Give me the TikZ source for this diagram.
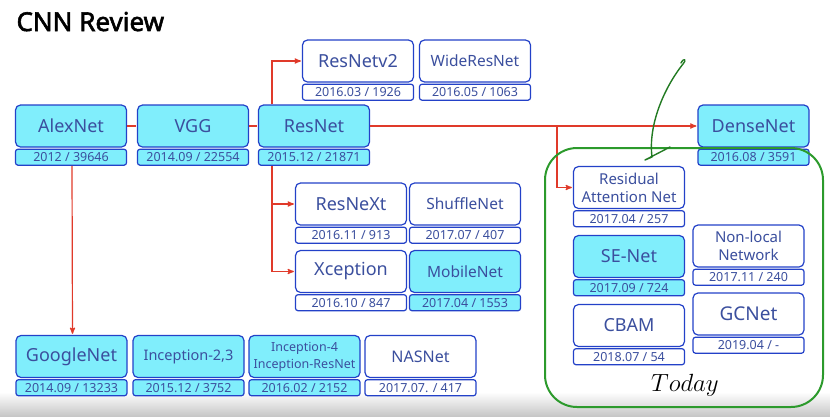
\documentclass[tikz,border=0pt]{standalone}
\usepackage{fontspec}
\setmainfont{Noto Sans}
\newfontfamily\titlefont{Noto Sans}[AutoFakeBold=2.2]
\usepackage{tikz}
\usetikzlibrary{arrows,positioning}
\definecolor{boxblue}{HTML}{2341C8}
\definecolor{boxcyan}{HTML}{80EEFC}
\definecolor{textblue}{HTML}{3B4F9E}
\definecolor{arrowred}{HTML}{E03A2A}
\definecolor{todaygreen}{HTML}{2C9A2C}
\tikzset{
    %Define standard arrow tip
    >=stealth',
    % Define style for model boxes
    netbox/.style={
           rectangle,
           rounded corners=5pt,
           draw=boxblue, line width=1.2pt,
           fill=white,
           minimum width=111pt,
           minimum height=42pt,
           inner sep=1pt,
           text=textblue,
           align=center,
           font=\fontsize{18}{20}\selectfont},
    % Define style for year / citation bars
    datebox/.style={
           rectangle,
           rounded corners=2.5pt,
           draw=boxblue, line width=1.2pt,
           fill=white,
           minimum width=111pt,
           minimum height=16pt,
           inner sep=0pt,
           text=textblue,
           font=\fontsize{12.5}{13}\selectfont},
    hot/.style={fill=boxcyan},
    % Define arrow style
    pil/.style={
           draw=arrowred,
           line width=1.2pt,
           shorten >=1pt},
    pilh/.style={pil,->}
}

\begin{document}
\begin{tikzpicture}[x=1pt,y=-1pt]
  \useasboundingbox (0,0) rectangle (830,416);
  \shade[top color=white,bottom color=black!22] (0,392) rectangle (830,416);
  \node[anchor=base west,font=\titlefont\fontsize{26}{28}\selectfont\bfseries] (title) at (13,31) {CNN Review};
  % main line
  \node[netbox,hot] (alex) at (71,126) {AlexNet};
  \node[datebox,hot] (alexd) [below=1pt of alex] {2012 / 39646};
  \node[netbox,hot] (vgg) at (193,126) {VGG};
  \node[datebox,hot] (vggd) [below=1pt of vgg] {2014.09 / 22554};
  \node[netbox,hot] (resnet) at (314,126) {ResNet};
  \node[datebox,hot] (resnetd) [below=1pt of resnet] {2015.12 / 21871};
  \node[netbox,hot] (dense) at (753.5,126) {DenseNet};
  \node[datebox,hot] (densed) [below=1pt of dense] {2016.08 / 3591};
  % resnet family
  \node[netbox] (resv2) at (358,61) {ResNetv2};
  \node[datebox] (resv2d) [below=1pt of resv2] {2016.03 / 1926};
  \node[netbox,font=\fontsize{15.5}{17}\selectfont] (wide) at (475,61) {WideResNet};
  \node[datebox] (wided) [below=1pt of wide] {2016.05 / 1063};
  \node[netbox] (resnext) at (351,204) {ResNeXt};
  \node[datebox] (resnextd) [below=1pt of resnext] {2016.11 / 913};
  \node[netbox,font=\fontsize{15.5}{17}\selectfont] (shuffle) at (465,204) {ShuffleNet};
  \node[datebox] (shuffled) [below=1pt of shuffle] {2017.07 / 407};
  \node[netbox] (xcept) at (351,271.5) {Xception};
  \node[datebox] (xceptd) [below=1pt of xcept] {2016.10 / 847};
  \node[netbox,hot,font=\fontsize{15.5}{17}\selectfont] (mobile) at (465,271.5) {MobileNet};
  \node[datebox,hot] (mobiled) [below=1pt of mobile] {2017.04 / 1553};
  % inception family
  \node[netbox,hot] (google) at (71.5,356.5) {GoogleNet};
  \node[datebox,hot] (googled) [below=1pt of google] {2014.09 / 13233};
  \node[netbox,hot,font=\fontsize{14.5}{16}\selectfont] (incep) at (188.5,356.5) {Inception-2,3};
  \node[datebox,hot] (incepd) [below=1pt of incep] {2015.12 / 3752};
  \node[netbox,hot,font=\fontsize{12.5}{17}\selectfont] (incepres) at (304.5,356.5) {Inception-4\\Inception-ResNet};
  \node[datebox,hot] (incepresd) [below=1pt of incepres] {2016.02 / 2152};
  \node[netbox,font=\fontsize{16}{18}\selectfont] (nas) at (420.5,356.5) {NASNet};
  \node[datebox] (nasd) [below=1pt of nas] {2017.07. / 417};
  % attention
  \node[netbox,font=\fontsize{15}{18}\selectfont] (resatt) at (629,187.5) {Residual\\Attention Net};
  \node[datebox] (resattd) [below=1pt of resatt] {2017.04 / 257};
  \node[netbox,hot] (senet) at (629,256.5) {SE-Net};
  \node[datebox,hot] (senetd) [below=1pt of senet] {2017.09 / 724};
  \node[netbox] (cbam) at (629,325.5) {CBAM};
  \node[datebox] (cbamd) [below=1pt of cbam] {2018.07 / 54};
  \node[netbox,font=\fontsize{15}{18}\selectfont] (nonlocal) at (748.5,246) {Non-local\\Network};
  \node[datebox] (nonlocald) [below=1pt of nonlocal] {2017.11 / 240};
  \node[netbox,font=\fontsize{19}{20}\selectfont] (gcnet) at (748.5,314) {GCNet};
  \node[datebox] (gcnetd) [below=1pt of gcnet] {2019.04 / -};
  % red links
  \coordinate (fork) at (557,126);
  \path[pil] (alex) -- (vgg);
  \path[pil] (vgg) -- (resnet);
  \path[pilh] (resnet) -- (dense);
  \path[pilh] (fork) |- (resatt);
  \path[pilh] ([xshift=-42pt]resnet.north) |- (resv2);
  \path[pilh] ([xshift=-42pt]resnetd.south) |- (resnext);
  \path[pilh] ([xshift=-42pt]resnetd.south) |- (xcept);
  \path[pilh] ([xshift=1pt]alexd.south) -- ([xshift=1pt]google.north);
  % today frame
  \draw[todaygreen,line width=2pt,rounded corners=32pt] (545,148) rectangle (823,407);
  \node[font=\fontsize{23}{24}\selectfont] (today) at (685,385) {$Today$};
  % hand drawn mark
  \draw[todaygreen!80!black,line width=1.4pt,line cap=round,line join=round]
    (681,63) .. controls (684,57) and (687,60) .. (683,64)
    .. controls (664,88) and (648,125) .. (652,157) -- (645,160) -- (670,147);
\end{tikzpicture}
\end{document}
